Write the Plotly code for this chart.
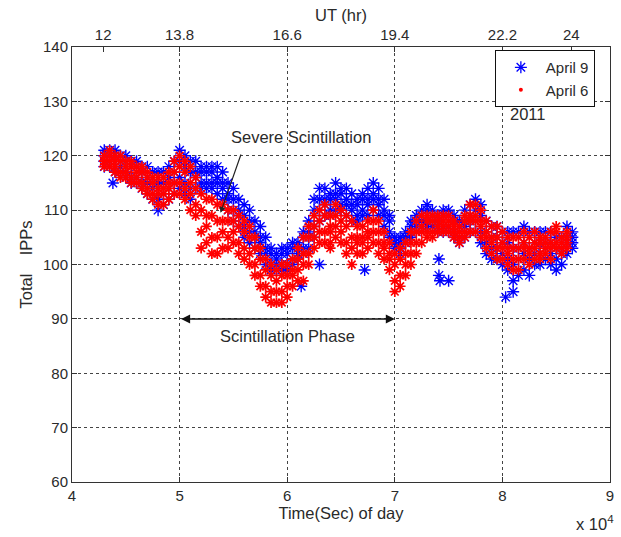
import plotly.graph_objects as go

# ---- sample times (seconds of day) ----
t_apr9 = list(range(43000, 87000, 500))   # 43000 ... 86500
t_apr6 = list(range(43000, 86500, 500))   # 43000 ... 86000

# ---- April 9: total IPP counts, spread of observed values at each time ----
apr9_hi = [121,121,121,120,120,119,119,118,118,117,117,117,118,119,121,120,119,119,118,118,
           118,118,117,115,114,112,111,110,108,107,105,103,102,103,103,104,104,106,108,112,
           114,114,113,115,114,114,113,112,113,114,115,114,112,109,105,105,106,108,109,110,
           111,110,109,110,110,109,108,110,111,112,111,108,107,107,106,106,106,106,107,106,
           106,106,106,106,105,105,107,106]
apr9_r2 = [120,120,120,119,119,118,118,117,116,115,115,115,116,117,119,118,117,117,117,117,
           117,116,115,113,112,110,109,108,106,105,103,102,101,102,102,103,103,105,106,110,
           112,112,112,113,113,112,111,111,112,112,113,112,110,108,104,104,105,107,108,109,
           110,109,108,109,109,108,107,108,109,110,109,106,105,105,104,104,103,103,104,103,
           104,104,104,104,103,103,105,105]
apr9_r3 = [119,119,118,118,117,116,116,115,115,114,112,113,114,115,116,115,114,116,115,115,
           115,115,114,112,110,109,107,106,105,104,102,100,100,100,100,101,102,103,105,107,
           110,111,110,112,111,111,110,109,110,111,112,111,109,106,104,103,105,106,107,108,
           108,108,107,107,107,106,105,107,108,108,106,104,103,103,102,101,100,101,102,101,
           102,102,103,102,101,102,104,104]
apr9_lo = [118,118,117,117,116,115,115,114,113,112,110,111,112,113,114,113,112,114,114,114,
           114,113,112,110,108,107,105,104,103,102,100,99,99,99,99,100,101,102,103,105,
           108,109,109,110,110,109,108,108,109,109,110,109,107,105,103,102,104,105,106,107,
           107,107,106,106,106,105,104,105,106,106,104,102,101,101,100,99,97,98,99,98,
           100,100,101,100,99,100,102,103]

# ---- April 6 ----
apr6_hi = [120,121,120,120,119,119,118,118,117,116,116,116,117,119,120,119,118,116,113,112,
           112,111,111,110,110,109,108,107,105,103,101,100,99,100,100,101,103,105,107,109,
           110,111,109,111,110,109,108,107,107,108,110,108,106,104,102,103,104,106,108,109,
           109,109,109,109,109,108,107,109,111,111,110,108,107,107,106,105,105,105,106,105,
           106,105,105,106,107,105,106]
apr6_r2 = [119,120,119,119,118,118,117,117,116,115,114,114,115,117,118,117,115,114,110,109,
           109,108,108,108,108,107,106,105,103,101,99,98,97,98,98,99,101,102,105,107,
           108,109,107,109,108,107,105,105,105,106,108,106,104,102,100,101,102,104,106,107,
           108,108,108,108,108,107,106,108,109,109,108,106,105,105,104,103,103,103,104,103,
           104,104,104,104,106,104,105]
apr6_r3 = [119,119,118,117,117,116,116,115,114,113,113,113,114,115,115,114,113,111,106,107,
           105,105,106,105,106,104,103,102,100,98,96,95,95,95,96,98,99,100,102,105,
           106,106,106,107,106,104,103,104,104,105,106,104,103,101,97,98,100,102,104,106,
           106,106,107,107,107,106,105,106,108,108,107,105,104,103,103,102,101,101,103,102,
           103,102,103,103,104,103,104]
apr6_lo = [118,118,117,116,116,115,115,114,113,112,111,111,112,113,113,112,110,109,103,104,
           102,102,103,103,104,102,101,100,98,96,94,93,93,93,94,96,97,97,100,103,
           104,104,104,105,104,102,100,102,102,103,104,102,101,99,95,96,98,100,102,104,
           105,105,106,106,106,105,104,105,106,106,105,103,102,101,101,100,99,99,101,100,
           101,101,102,101,103,102,103]

# ---- isolated readings away from the main bands ----
apr9_out_t = [43800, 61300, 63000, 67200, 74100, 74100, 74200, 75000, 80300, 81000]
apr9_out_v = [115, 96, 100, 99, 101, 98, 97, 97, 94, 95]
apr6_out_t = [64000]
apr6_out_v = [103]

# ---- axis tick labels ----
sec_ticks = [40000, 50000, 60000, 70000, 80000, 90000]
sec_labels = ["4", "5", "6", "7", "8", "9"]
ut_ticks = [42900, 50000, 60000, 70000, 80000, 86400]
ut_labels = ["12", "13.8", "16.6", "19.4", "22.2", "24"]

BLUE = "#0000ff"
RED = "#ff0000"
FONT = "Liberation Sans, Arial, sans-serif"
TXT = "#2a2a2a"
TICK_SIZE = 15
LABEL_SIZE = 16.5

fig = go.Figure()

b_x = t_apr9 * 4 + apr9_out_t
b_y = apr9_hi + apr9_r2 + apr9_r3 + apr9_lo + apr9_out_v
r_x = t_apr6 * 4 + apr6_out_t
r_y = apr6_hi + apr6_r2 + apr6_r3 + apr6_lo + apr6_out_v

fig.add_trace(go.Scatter(
    x=b_x, y=b_y, mode="markers", showlegend=False,
    marker=dict(symbol="asterisk-open", size=10, color=BLUE,
                line=dict(color=BLUE, width=1.4))))
fig.add_trace(go.Scatter(
    x=r_x, y=r_y, mode="markers", showlegend=False,
    marker=dict(symbol="asterisk-open", size=9, color=RED,
                line=dict(color=RED, width=1.7))))

# legend entries
fig.add_trace(go.Scatter(
    x=[None], y=[None], mode="markers", name="April 9",
    marker=dict(symbol="asterisk-open", size=10, color=BLUE,
                line=dict(color=BLUE, width=1.3))))
fig.add_trace(go.Scatter(
    x=[None], y=[None], mode="markers", name="April 6",
    marker=dict(symbol="circle", size=4, color=RED)))

# carrier for the UT axis on top
fig.add_trace(go.Scatter(x=[sec_ticks[0], sec_ticks[-1]], y=[None, None],
                         xaxis="x2", mode="markers", showlegend=False,
                         hoverinfo="skip"))

axis_common = dict(showline=True, linecolor="#333333", linewidth=1,
                   ticks="inside", ticklen=5, tickcolor="#333333",
                   tickfont=dict(family=FONT, size=TICK_SIZE, color=TXT),
                   zeroline=False)

fig.update_layout(
    width=621, height=537,
    margin=dict(l=72, r=7, t=47, b=55),
    paper_bgcolor="white", plot_bgcolor="white",
    font=dict(family=FONT, size=TICK_SIZE, color=TXT),
    xaxis=dict(range=[40000, 90000], tickvals=sec_ticks, ticktext=sec_labels,
               mirror=True, showgrid=True, gridcolor="#444444", griddash="dot",
               gridwidth=1,
               title=dict(text="Time(Sec) of day", standoff=4,
                          font=dict(family=FONT, size=LABEL_SIZE, color=TXT)),
               **axis_common),
    xaxis2=dict(range=[40000, 90000], overlaying="x", side="top",
                tickvals=ut_ticks, ticktext=ut_labels, showgrid=False,
                title=dict(text="UT (hr)", standoff=0,
                           font=dict(family=FONT, size=LABEL_SIZE, color=TXT)),
                **axis_common),
    yaxis=dict(range=[60, 140], dtick=10, mirror="ticks", showgrid=True,
               gridcolor="#444444", griddash="dot", gridwidth=1,
               title=dict(text="Total    IPPs", standoff=6,
                          font=dict(family=FONT, size=LABEL_SIZE, color=TXT)),
               **axis_common),
    legend=dict(x=0.786, y=0.993, xanchor="left", yanchor="top",
                bgcolor="white", bordercolor="#111111", borderwidth=1,
                font=dict(family=FONT, size=15, color=TXT),
                itemwidth=40, tracegroupgap=0),
    showlegend=True,
)

# annotations
fig.add_annotation(x=82300, y=127.6, text="2011", showarrow=False,
                   font=dict(family=FONT, size=LABEL_SIZE, color=TXT))
fig.add_annotation(x=61300, y=123.4, text="Severe Scintillation", showarrow=False,
                   font=dict(family=FONT, size=LABEL_SIZE, color=TXT))
fig.add_annotation(x=53800, y=109.5, ax=55750, ay=120.5, axref="x", ayref="y",
                   text="", showarrow=True, arrowhead=2, arrowsize=1,
                   arrowwidth=1.2, arrowcolor="#222222")
fig.add_annotation(x=70000, y=90, ax=50000, ay=90, axref="x", ayref="y",
                   text="", showarrow=True, arrowhead=2, startarrowhead=2,
                   arrowside="end+start", arrowsize=1.2, arrowwidth=1.5,
                   arrowcolor="#111111")
fig.add_annotation(x=60000, y=86.9, text="Scintillation Phase", showarrow=False,
                   font=dict(family=FONT, size=LABEL_SIZE, color=TXT))
fig.add_annotation(x=0.934, y=-0.095, xref="paper", yref="paper",
                   text="x 10<sup>4</sup>", showarrow=False, xanchor="left",
                   yanchor="middle",
                   font=dict(family=FONT, size=LABEL_SIZE, color=TXT))

fig.write_html("out.html")
